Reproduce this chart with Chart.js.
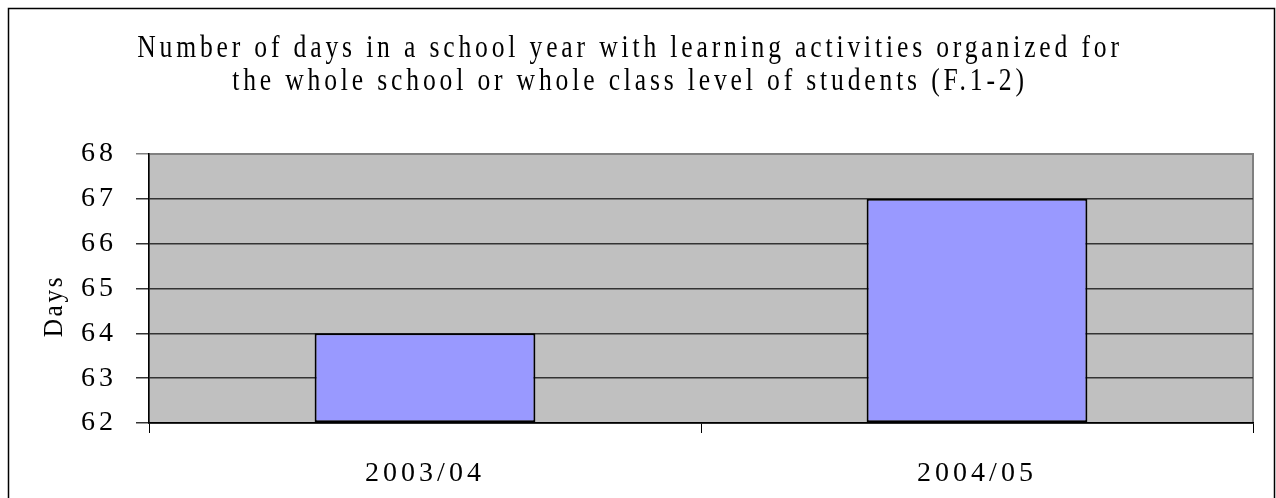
<!DOCTYPE html>
<html>
<head>
<meta charset="utf-8">
<script src="https://cdn.jsdelivr.net/npm/chart.js@4/dist/chart.umd.min.js"></script>
<style>
  html, body { margin: 0; padding: 0; background: #fff; }
  #wrap { width: 1276px; height: 498px; }
</style>
</head>
<body>
<div id="wrap"><canvas id="chart" width="1276" height="498"></canvas></div>
<script>
// -----------------------------
// Data
// -----------------------------
const categories = ["2003/04", "2004/05"];
const days = [64, 67];
const yTicks = [62, 63, 64, 65, 66, 67, 68];
const titleLines = [
    "Number of days in a school year with learning activities organized for",
    "the whole school or whole class level of students (F.1-2)"
];
const yTitle = "Days";

const FONT = '"Liberation Serif", "Times New Roman", serif';

// -----------------------------
// Plugins
// -----------------------------
const spacing = {
    id: "spacing",
    beforeLayout(chart) { chart.ctx.letterSpacing = "4px"; },
    beforeDraw(chart) { chart.ctx.letterSpacing = "4px"; }
};

const plotBack = {
    id: "plotBack",
    beforeDraw(chart) {
        const { ctx, chartArea: a } = chart;
        ctx.save();
        ctx.fillStyle = "#C0C0C0";
        ctx.fillRect(a.left, a.top, a.right - a.left, a.bottom - a.top);
        ctx.strokeStyle = "#808080";
        ctx.lineWidth = 2;
        ctx.strokeRect(a.left, a.top, a.right - a.left, a.bottom - a.top);
        ctx.restore();
    }
};

const frameAndTitle = {
    id: "frameAndTitle",
    afterDraw(chart) {
        const ctx = chart.ctx;
        ctx.save();
        ctx.strokeStyle = "#000";
        ctx.lineWidth = 1.5;
        ctx.strokeRect(8.5, 8.5, 1266, 500);

        ctx.fillStyle = "#000";
        ctx.font = "32px " + FONT;
        ctx.letterSpacing = "4.8px";
        ctx.textAlign = "center";
        ctx.textBaseline = "alphabetic";
        const baselines = [57, 90];
        titleLines.forEach((line, i) => {
            ctx.save();
            ctx.translate(630, baselines[i]);
            ctx.scale(0.8, 1);
            ctx.fillText(line, 0, 0);
            ctx.restore();
        });

        // axis title, sits a bit below the plot's middle like the original
        ctx.save();
        ctx.font = "28px " + FONT;
        ctx.letterSpacing = "3px";
        ctx.translate(62, 306);
        ctx.rotate(-Math.PI / 2);
        ctx.scale(0.9, 1);
        ctx.fillText(yTitle, 0, 0);
        ctx.restore();
        ctx.restore();
    }
};

// -----------------------------
// Chart
// -----------------------------
const ctx = document.getElementById("chart").getContext("2d");
new Chart(ctx, {
    type: "bar",
    data: {
        labels: categories,
        datasets: [{
            label: "Days",
            data: days,
            base: 62,
            backgroundColor: "#9999FF",
            borderColor: "#000000",
            borderWidth: 2,
            borderSkipped: false,
            barPercentage: 0.4,
            categoryPercentage: 1.0
        }]
    },
    options: {
        responsive: false,
        animation: false,
        layout: { padding: { top: 154, right: 23, left: 0, bottom: 0 } },
        plugins: {
            legend: { display: false },
            title: { display: false },
            tooltip: { enabled: false }
        },
        scales: {
            x: {
                offset: true,
                grid: {
                    offset: true,
                    drawOnChartArea: false,
                    color: "#000",
                    tickLength: 10
                },
                border: { color: "#000", width: 1.5 },
                ticks: {
                    color: "#000",
                    padding: 24,
                    font: { family: FONT, size: 28 }
                },
                afterFit(scale) { scale.height = 75; }
            },
            y: {
                min: 62,
                max: 68,
                afterBuildTicks(scale) { scale.ticks = yTicks.map(v => ({ value: v })); },
                grid: {
                    color: c => (c.tick && c.tick.value === 68 ? "#808080" : "#333333"),
                    lineWidth: 1.5,
                    tickLength: 13
                },
                border: { color: "#000", width: 1.5 },
                ticks: {
                    color: "#000",
                    padding: 19,
                    font: { family: FONT, size: 28 }
                },
                afterFit(scale) { scale.width = 149; }
            }
        }
    },
    plugins: [spacing, plotBack, frameAndTitle]
});
</script>
</body>
</html>
